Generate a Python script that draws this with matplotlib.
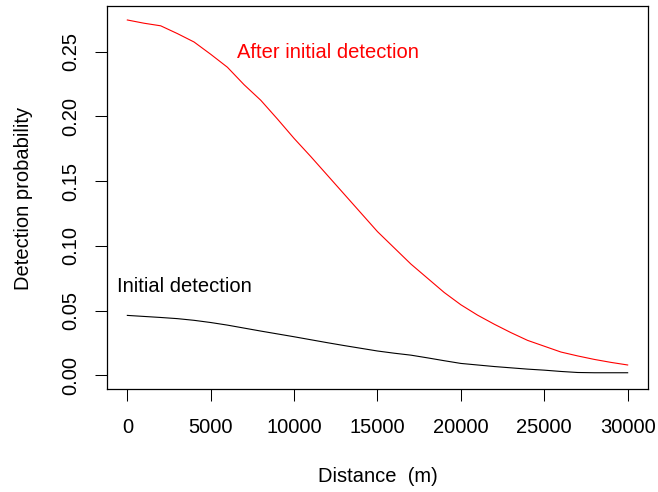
import matplotlib
matplotlib.use("Agg")
import matplotlib.pyplot as plt

distance = [0, 1000, 2000, 3000, 4000, 5000, 6000, 7000, 8000, 9000, 10000,
            11000, 12000, 13000, 14000, 15000, 16000, 17000, 18000, 19000,
            20000, 21000, 22000, 23000, 24000, 25000, 26000, 27000, 28000,
            29000, 30000]
after_initial = [0.2745, 0.272, 0.270, 0.264, 0.2575, 0.248, 0.238, 0.2245,
                 0.2125, 0.198, 0.183, 0.169, 0.1545, 0.140, 0.1255, 0.111,
                 0.0985, 0.086, 0.075, 0.064, 0.0545, 0.0465, 0.0395, 0.033,
                 0.027, 0.0225, 0.018, 0.015, 0.0123, 0.010, 0.008]
initial = [0.0463, 0.0455, 0.0447, 0.0438, 0.0425, 0.0408, 0.0388, 0.0365,
           0.0342, 0.0320, 0.0298, 0.0275, 0.0252, 0.0230, 0.0209, 0.0188,
           0.0171, 0.0156, 0.0135, 0.0113, 0.0092, 0.0080, 0.0068, 0.0058,
           0.0048, 0.0040, 0.0030, 0.0022, 0.0020, 0.0020, 0.0020]
xticks = [0, 5000, 10000, 15000, 20000, 25000, 30000]
yticks = [0.00, 0.05, 0.10, 0.15, 0.20, 0.25]
ytick_labels = ["0.00", "0.05", "0.10", "0.15", "0.20", "0.25"]

plt.rcParams['font.family'] = ['Liberation Sans', 'DejaVu Sans']
FS = 14.5

fig = plt.figure(figsize=(6.58, 4.92), dpi=100)
ax = fig.add_axes([0.1631, 0.2087, 0.9843 - 0.1631, 0.9878 - 0.2087])

ax.plot(distance, initial, color='black', lw=0.8)
ax.plot(distance, after_initial, color='red', lw=0.8)

ax.text(12000, 0.249, "After initial detection", color='red', fontsize=FS,
        ha='center', va='center')
ax.text(3440, 0.069, "Initial detection", color='black', fontsize=FS,
        ha='center', va='center')

ax.set_xlim(-1200, 31200)
ax.set_ylim(-0.0108, 0.2853)
ax.set_xticks(xticks)
ax.set_xticklabels([str(v) for v in xticks], fontsize=FS)
ax.set_yticks(yticks)
ax.set_yticklabels(ytick_labels, fontsize=FS, rotation=90, va='center')
ax.tick_params(axis='both', direction='out', length=8.6, width=0.75, color='black')
ax.tick_params(axis='x', pad=12)
ax.tick_params(axis='y', pad=11)
for s in ax.spines.values():
    s.set_linewidth(0.9)
    s.set_color('black')

fig.text(0.5 * (0.1631 + 0.9843), 1 - 476 / 492, "Distance  (m)", fontsize=FS,
         ha='center', va='center')
fig.text(24 / 658, 1 - 198 / 492, "Detection probability", fontsize=FS,
         ha='center', va='center', rotation=90)

fig.savefig("out.png", dpi=100)
